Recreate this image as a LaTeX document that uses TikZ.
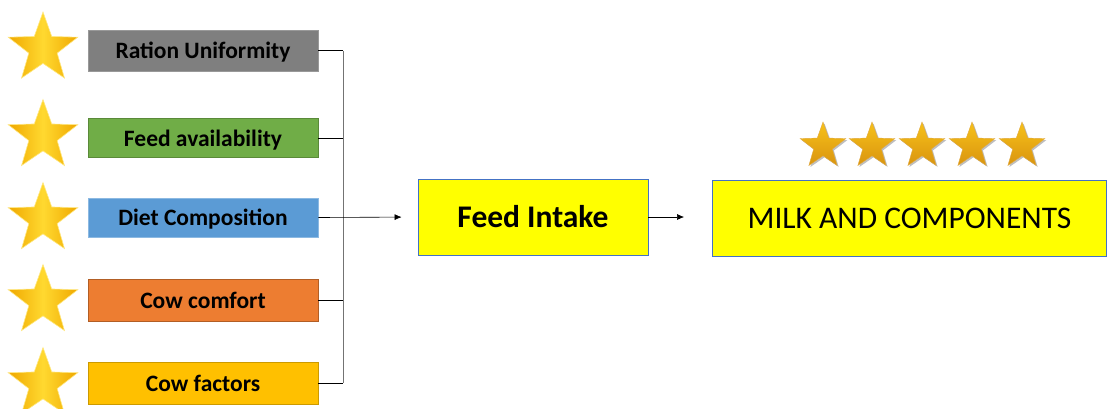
\documentclass[tikz,border=0pt]{standalone}
\usepackage{fontspec}
\setmainfont{Carlito}
\usetikzlibrary{shapes.geometric,arrows.meta}
\definecolor{cgray}{HTML}{7F7F7F}
\definecolor{cgreen}{HTML}{70AD47}
\definecolor{cblue}{HTML}{5B9BD5}
\definecolor{corange}{HTML}{ED7D31}
\definecolor{cgold}{HTML}{FFC000}
\definecolor{cyel}{HTML}{FFFF00}
\definecolor{bblue}{HTML}{4472C4}
\definecolor{stdark}{HTML}{F0A800}
\definecolor{stlight}{HTML}{FFD930}
\definecolor{rstar}{HTML}{F5B21E}
\definecolor{rstardark}{HTML}{D99410}
\tikzset{
  factor/.style={minimum width=230pt, inner sep=0pt, text depth=0pt, font=\fontsize{23.5}{23.5}\bfseries\selectfont, text=black, line width=0.8pt},
  bigbox/.style={minimum height=76pt, inner sep=0pt, fill=cyel, draw=bblue, line width=0.8pt, text=black},
  lstar/.style={star, star points=5, star point ratio=2.45, minimum size=73pt, inner sep=0pt,
     left color=stdark, right color=stdark, middle color=stlight, draw=stlight!60, line width=0.6pt},
  rstarshape/.style={star, star points=5, star point ratio=2.45, minimum size=48pt, inner sep=0pt},
  rstarsty/.style={rstarshape, top color=rstar!80!yellow, bottom color=rstardark, draw=rstardark!80, line width=0.4pt},
  rshadow/.style={rstarshape, fill=black!25},
  conn/.style={line width=0.7pt, draw=black},
  arr/.style={line width=0.6pt, -{Latex[length=7pt,width=6pt]}}
}
\begin{document}
\begin{tikzpicture}[x=1pt,y=-1pt]
\useasboundingbox (0,0) rectangle (1107,408);
% left stars
\node[lstar] (s1) at (43,48.5) {};
\node[lstar] (s2) at (43,136) {};
\node[lstar] (s3) at (43,219) {};
\node[lstar] (s4) at (43,301) {};
\node[lstar] (s5) at (43,384) {};
% factor boxes
\node[factor, minimum height=41pt, fill=cgray, draw=cgray!80!white] (ru) at (203,50.5) {Ration Uniformity};
\node[factor, minimum height=39pt, fill=cgreen, draw=cgreen!80!black] (fa) at (203,138) {Feed availability};
\node[factor, minimum height=39pt, fill=cblue, draw=cblue!70!white] (dc) at (203,217.5) {Diet Composition};
\node[factor, minimum height=42pt, fill=corange, draw=corange!75!black] (cc) at (203,300) {Cow comfort};
\node[factor, minimum height=42pt, fill=cgold, draw=cgold!80!black] (cf) at (203,383) {Cow factors};
% bus
\coordinate (bt) at (343,50.5);
\coordinate (bb) at (343,383);
\draw[conn, draw=black!55] (bt) -- (bb);
\draw[conn] (ru.east) -- (ru.east -| bt);
\draw[conn] (fa.east) -- (fa.east -| bt);
\draw[conn] (cc.east) -- (cc.east -| bt);
\draw[conn] (cf.east) -- (cf.east -| bt);
% main boxes
\node[bigbox, minimum width=230pt, font=\fontsize{31.5}{31.5}\bfseries\selectfont] (fi) at (533,217) {Feed Intake};
\node[bigbox, minimum width=394pt, font=\fontsize{31.5}{31.5}\selectfont] (mk) at (909.5,218) {MILK AND COMPONENTS};
\draw[arr, shorten >=16pt] (dc.east) -- (fi.west);
\draw[arr, shorten >=28pt] (fi.east) -- (fi.east -| mk.west);
% right stars
\foreach \i/\x in {1/823,2/872,3/922,4/972,5/1022}{
  \node[rshadow] at (\x+1.5,147.5) {};
  \node[rstarsty] (r\i) at (\x,146) {};
}
\end{tikzpicture}
\end{document}
